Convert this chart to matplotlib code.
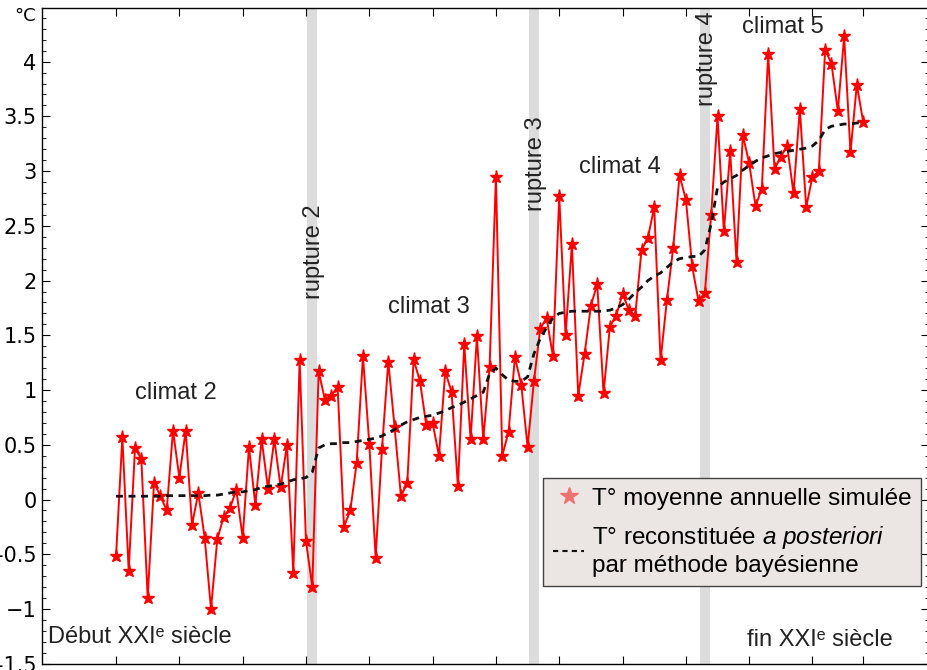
import numpy as np
import matplotlib.pyplot as plt
from matplotlib.lines import Line2D
from matplotlib.ticker import MultipleLocator

plt.rcParams['font.family'] = ['Liberation Sans', 'DejaVu Sans']
plt.rcParams['mathtext.fontset'] = 'custom'
plt.rcParams['mathtext.rm'] = 'Liberation Sans'
plt.rcParams['mathtext.it'] = 'Liberation Sans:italic'

# simulated annual mean temperature (one value per year)
simulated = [
    -0.52, 0.57, -0.65, 0.47, 0.37, -0.90, 0.15, 0.035, -0.10, 0.63,
    0.20, 0.63, -0.23, 0.06, -0.35, -1.00, -0.36, -0.16, -0.08, 0.09,
    -0.35, 0.48, -0.05, 0.55, 0.10, 0.55, 0.11, 0.50, -0.67, 1.27,
    -0.38, -0.80, 1.17, 0.91, 0.95, 1.03, -0.25, -0.10, 0.33, 1.31,
    0.51, -0.53, 0.46, 1.26, 0.66, 0.03, 0.15, 1.28, 1.08, 0.68,
    0.70, 0.40, 1.17, 0.98, 0.12, 1.42, 0.55, 1.49, 0.55, 1.21,
    2.95, 0.40, 0.62, 1.30, 1.05, 0.48, 1.08, 1.56, 1.66, 1.31,
    2.77, 1.50, 2.33, 0.95, 1.33, 1.77, 1.97, 0.97, 1.58, 1.68,
    1.88, 1.73, 1.68, 2.28, 2.39, 2.67, 1.27, 1.82, 2.30, 2.96,
    2.74, 2.13, 1.81, 1.89, 2.60, 3.50, 2.45, 3.18, 2.17, 3.33,
    3.07, 2.68, 2.84, 4.07, 3.02, 3.13, 3.23, 2.80, 3.57, 2.67,
    2.95, 3.00, 4.11, 3.98, 3.55, 4.23, 3.17, 3.79, 3.45,
]

# bayesian reconstruction
reconstructed = [
    0.03, 0.03, 0.03, 0.03, 0.03, 0.03, 0.03, 0.03, 0.035, 0.035,
    0.035, 0.035, 0.035, 0.035, 0.035, 0.04, 0.04, 0.05, 0.06, 0.07,
    0.07, 0.08, 0.09, 0.11, 0.12, 0.13, 0.14, 0.16, 0.18, 0.19,
    0.20, 0.25, 0.47, 0.50, 0.51, 0.51, 0.52, 0.52, 0.53, 0.54,
    0.55, 0.56, 0.58, 0.61, 0.64, 0.68, 0.71, 0.73, 0.75, 0.76,
    0.77, 0.79, 0.81, 0.84, 0.86, 0.89, 0.92, 0.95, 0.98, 1.15,
    1.20, 1.14, 1.09, 1.08, 1.08, 1.12, 1.33, 1.47, 1.57, 1.66,
    1.70, 1.71, 1.72, 1.72, 1.72, 1.72, 1.72, 1.72, 1.73, 1.75,
    1.78, 1.83, 1.89, 1.94, 2.00, 2.04, 2.07, 2.12, 2.17, 2.20,
    2.21, 2.22, 2.22, 2.28, 2.52, 2.85, 2.90, 2.93, 2.96, 3.01,
    3.05, 3.09, 3.12, 3.14, 3.16, 3.17, 3.18, 3.19, 3.20, 3.21,
    3.23, 3.28, 3.38, 3.41, 3.42, 3.43, 3.43, 3.44, 3.44,
]

years = np.arange(len(simulated))

rupture_idx = [31, 66, 93]
rupture_labels = ['rupture 2', 'rupture 3', 'rupture 4']
rupture_text_y = [2.26, 3.07, 4.03]

climate_labels = ['climat 2', 'climat 3', 'climat 4', 'climat 5']
climate_x = [9.5, 49.4, 79.6, 105.4]
climate_y = [0.97, 1.76, 3.04, 4.32]

ytick_vals = [-1.5, -1, -0.5, 0, 0.5, 1, 1.5, 2, 2.5, 3, 3.5, 4]
ytick_labels = ['-1.5', '\u22121', '-0.5', '0', '0.5', '1', '1.5', '2', '2.5', '3', '3.5', '4']
xtick_vals = list(range(0, 111, 10)) + [118]

fig = plt.figure(figsize=(9.27, 6.7), dpi=100)
ax = fig.add_axes([42 / 927, 6.3 / 670, 887 / 927, 655.7 / 670])

for r in rupture_idx:
    ax.axvspan(r - 0.8, r + 0.8, color='#dcdcdc', lw=0, zorder=0)

ax.plot(years, reconstructed, color='#111111', ls=(0, (2.5, 2)), lw=2.0, zorder=3)
ax.plot(years, simulated, color='#ff0000', lw=1.4, marker='*', ms=9.5,
        mec='#ff0000', mfc='#ff0000', zorder=2)

txt_color = '#222222'
fs = 17
for r, lab, ty in zip(rupture_idx, rupture_labels, rupture_text_y):
    ax.text(r + 0.3, ty, lab, rotation=90, ha='center', va='center',
            fontsize=fs, color=txt_color, zorder=4)
for lab, cx, cy in zip(climate_labels, climate_x, climate_y):
    ax.text(cx, cy, lab, ha='center', va='center', fontsize=fs, color=txt_color)

ax.text(0.007, 0.04, 'Début XXI\u1d49 siècle', transform=ax.transAxes,
        ha='left', va='center', fontsize=fs, color=txt_color)
ax.text(111.1, -1.28, 'fin XXI\u1d49 siècle', ha='center', va='center',
        fontsize=fs, color=txt_color)

ax.set_xlim(-11.69, 128.4)
ax.set_ylim(-1.5, 4.49)
ax.set_xticks(xtick_vals)
ax.set_xticklabels([])
ax.set_yticks(ytick_vals)
ax.set_yticklabels(ytick_labels, fontsize=15, family='DejaVu Sans')
ax.yaxis.set_minor_locator(MultipleLocator(0.1))
ax.tick_params(which='both', direction='in', top=True, right=True)
ax.tick_params(which='major', length=6, pad=4)
ax.tick_params(which='minor', length=3)
for s in ax.spines.values():
    s.set_linewidth(1.0)

fig.text(25 / 927, 1 - 16 / 670, '°C', ha='center', va='center', fontsize=13,
         family='DejaVu Sans')

handles = [
    Line2D([], [], ls='none', marker='*', ms=13, color='#f07070'),
    Line2D([], [], ls=(0, (2.5, 2)), lw=1.5, color='#111111'),
]
labels = ['T° moyenne annuelle simulée',
          'T° reconstituée $\\it{a\\ posteriori}$\npar méthode bayésienne']
leg = fig.legend(handles, labels, loc='upper left',
                 bbox_to_anchor=(543 / 927, 1 - 478 / 670), fontsize=17.5,
                 frameon=True, fancybox=False, handlelength=1.3,
                 handletextpad=0.3, borderpad=0.4, labelspacing=0.6,
                 borderaxespad=0)
frame = leg.get_frame()
frame.set_facecolor('#ebe6e4')
frame.set_edgecolor('#444444')
frame.set_alpha(1)
frame.set_linewidth(1.0)

fig.savefig('out.png', dpi=100)
